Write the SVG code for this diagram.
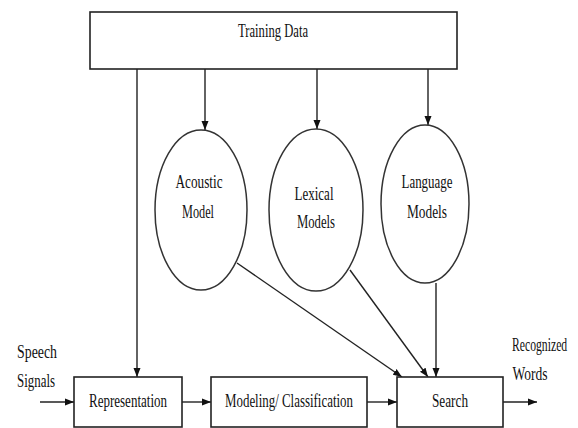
<svg xmlns="http://www.w3.org/2000/svg" width="578" height="428" viewBox="0 0 578 428">
<style>
.box{fill:#fff;stroke:#222;stroke-width:1.6}
.ell{fill:#fff;stroke:#333;stroke-width:1.5}
.ln{stroke:#222;stroke-width:1.4;fill:none}
.t{font-family:"Liberation Serif","Times New Roman",serif;font-size:18px;fill:#111;text-anchor:middle}
</style>
<defs>
<marker id="ah" markerWidth="9" markerHeight="8" refX="9" refY="4" orient="auto" markerUnits="userSpaceOnUse">
<path d="M0,0.5 L9,4 L0,7.5 Z" fill="#111"/>
</marker>
</defs>
<rect width="578" height="428" fill="#fff"/>
<g id="connectors">
<line class="ln" x1="137" y1="69" x2="137" y2="377" marker-end="url(#ah)"/>
<line class="ln" x1="205" y1="69" x2="205" y2="130" marker-end="url(#ah)"/>
<line class="ln" x1="317" y1="69" x2="317" y2="129" marker-end="url(#ah)"/>
<line class="ln" x1="428" y1="69" x2="428" y2="125" marker-end="url(#ah)"/>
<line class="ln" x1="237" y1="263" x2="402" y2="377" marker-end="url(#ah)"/>
<line class="ln" x1="350" y1="270" x2="428" y2="377" marker-end="url(#ah)"/>
<line class="ln" x1="436" y1="283" x2="436" y2="377" marker-end="url(#ah)"/>
<line class="ln" x1="40" y1="402" x2="74" y2="402" marker-end="url(#ah)"/>
<line class="ln" x1="182" y1="402" x2="211" y2="402" marker-end="url(#ah)"/>
<line class="ln" x1="367" y1="402" x2="397" y2="402" marker-end="url(#ah)"/>
<line class="ln" x1="503" y1="402" x2="537" y2="402" marker-end="url(#ah)"/>
</g>
<g id="training-data">
<rect class="box" x="90" y="12" width="367" height="57"/>
<text class="t" x="273" y="37" font-size="19" textLength="70" lengthAdjust="spacingAndGlyphs">Training Data</text>
</g>
<g id="acoustic-model">
<ellipse class="ell" cx="201" cy="210" rx="46" ry="80"/>
<text class="t" x="199" y="188" textLength="47" lengthAdjust="spacingAndGlyphs">Acoustic</text>
<text class="t" x="198" y="218" textLength="32" lengthAdjust="spacingAndGlyphs">Model</text>
</g>
<g id="lexical-models">
<ellipse class="ell" cx="316" cy="210" rx="47" ry="81"/>
<text class="t" x="314" y="200" textLength="39" lengthAdjust="spacingAndGlyphs">Lexical</text>
<text class="t" x="316" y="228" textLength="38" lengthAdjust="spacingAndGlyphs">Models</text>
</g>
<g id="language-models">
<ellipse class="ell" cx="425" cy="204" rx="44" ry="79"/>
<text class="t" x="427" y="188" textLength="51" lengthAdjust="spacingAndGlyphs">Language</text>
<text class="t" x="427" y="218" textLength="40" lengthAdjust="spacingAndGlyphs">Models</text>
</g>
<g id="representation">
<rect class="box" x="74" y="377" width="108" height="50"/>
<text class="t" x="128" y="407" textLength="78" lengthAdjust="spacingAndGlyphs">Representation</text>
</g>
<g id="modeling-classification">
<rect class="box" x="211" y="377" width="156" height="50"/>
<text class="t" x="289" y="407" textLength="128" lengthAdjust="spacingAndGlyphs">Modeling/ Classification</text>
</g>
<g id="search">
<rect class="box" x="397" y="377" width="106" height="50"/>
<text class="t" x="450" y="407" textLength="36" lengthAdjust="spacingAndGlyphs">Search</text>
</g>
<g id="speech-signals">
<text class="t" x="37" y="358" textLength="40" lengthAdjust="spacingAndGlyphs">Speech</text>
<text class="t" x="36" y="387" textLength="38" lengthAdjust="spacingAndGlyphs">Signals</text>
</g>
<g id="recognized-words">
<text class="t" style="text-anchor:start" transform="matrix(0.65 0 0 1 512 351)" x="0" y="0">Recognized</text>
<text class="t" x="530" y="380" textLength="35" lengthAdjust="spacingAndGlyphs">Words</text>
</g>
</svg>
